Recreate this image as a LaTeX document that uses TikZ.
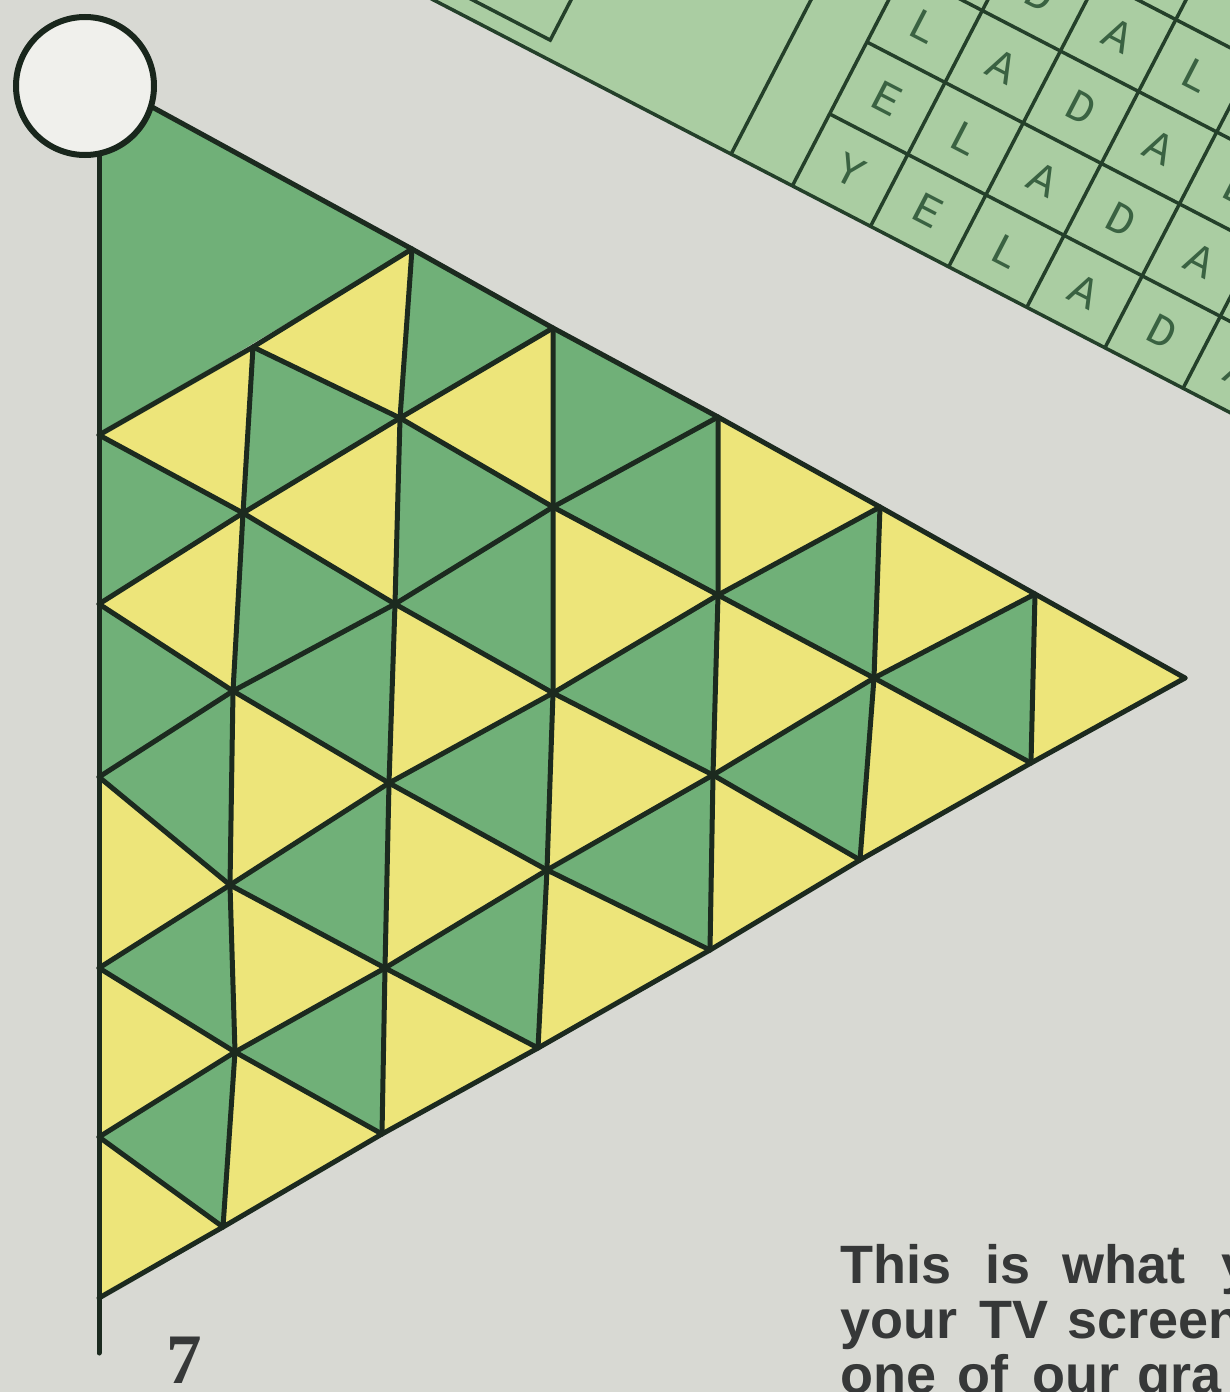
\documentclass[tikz,border=0pt]{standalone}
\usepackage{fontspec}
\newfontfamily\captionfont{Liberation Sans}
\newfontfamily\pagenumfont{Liberation Serif}
\newfontfamily\cardfont{Liberation Mono}
\definecolor{paper}{HTML}{D8D9D3}
\definecolor{tgreen}{HTML}{70B078}
\definecolor{tyellow}{HTML}{EDE57A}
\definecolor{inkline}{HTML}{1C2A1F}
\definecolor{cardgreen}{HTML}{AACDA2}
\definecolor{cardink}{HTML}{24402A}
\definecolor{letterink}{HTML}{3A6242}
\definecolor{textink}{HTML}{363838}
\definecolor{dotfill}{HTML}{F0F0EC}
\begin{document}
\begin{tikzpicture}[x=1pt,y=-1pt,
  grn/.style={fill=tgreen},
  yel/.style={fill=tyellow},
  gridline/.style={draw=inkline,line width=5pt,line join=round,line cap=round},
  cardline/.style={draw=cardink,line width=3.5pt},
  cardletter/.style={font=\cardfont\fontsize{45}{45}\selectfont,text=letterink,rotate=-27.4,inner sep=0pt},
  captionline/.style={font=\captionfont\bfseries\fontsize{54}{55}\selectfont,text=textink,anchor=base west,inner sep=0pt}]
\path[use as bounding box] (0,0) rectangle (1230,1392);
\clip (0,0) rectangle (1230,1392);
\fill[paper] (0,0) rectangle (1230,1392);

% ---------- card with letter grid (top right) ----------
\begin{scope}[shift={(700,138)}, x={(0.888pt,-0.46pt)}, y={(0.46pt,0.888pt)}]
  \fill[cardgreen] (-700,0) -- (900,0) -- (900,900) -- (-700,900) -- cycle;
  \draw[cardline] (-700,18) -- (-178,18) -- (-178,500);
  \draw[cardline] (35,0) -- (35,600);
  \foreach \k in {0,...,8} { \draw[cardline] ({104+88*\k},0) -- ({104+88*\k},700); }
  \foreach \m in {1,...,7} { \draw[cardline] (104,{81*\m}) -- (900,{81*\m}); }
  \draw[cardline] (-700,0) -- (900,0);
  \node[cardletter] (l00) at (148,40.5) {Y};
  \node[cardletter] (l10) at (236,40.5) {E};
  \node[cardletter] (l20) at (324,40.5) {L};
  \node[cardletter] (l30) at (412,40.5) {A};
  \node[cardletter] (l40) at (500,40.5) {D};
  \node[cardletter] (l50) at (588,40.5) {A};
  \node[cardletter] (l01) at (148,121.5) {E};
  \node[cardletter] (l11) at (236,121.5) {L};
  \node[cardletter] (l21) at (324,121.5) {A};
  \node[cardletter] (l31) at (412,121.5) {D};
  \node[cardletter] (l41) at (500,121.5) {A};
  \node[cardletter] (l02) at (148,202.5) {L};
  \node[cardletter] (l12) at (236,202.5) {A};
  \node[cardletter] (l22) at (324,202.5) {D};
  \node[cardletter] (l32) at (412,202.5) {A};
  \node[cardletter] (l42) at (500,202.5) {L};
  \node[cardletter] (l03) at (148,283.5) {A};
  \node[cardletter] (l13) at (236,283.5) {D};
  \node[cardletter] (l23) at (324,283.5) {A};
  \node[cardletter] (l33) at (412,283.5) {L};
\end{scope}

% ---------- lattice points of the triangle ----------
\coordinate (P00) at (99,78);
\coordinate (P02) at (99,435);
\coordinate (P03) at (99,604);
\coordinate (P04) at (99,777);
\coordinate (P05) at (99,968);
\coordinate (P06) at (99,1137);
\coordinate (P07) at (99,1298);
\coordinate (P11) at (253,347);
\coordinate (P12) at (243,513);
\coordinate (P13) at (233,691);
\coordinate (P14) at (230,885);
\coordinate (P15) at (235,1052);
\coordinate (P16) at (223,1227);
\coordinate (P20) at (412,249);
\coordinate (P21) at (400,418);
\coordinate (P22) at (395,604);
\coordinate (P23) at (389,783);
\coordinate (P24) at (385,968);
\coordinate (P25) at (382,1134);
\coordinate (P30) at (553,328);
\coordinate (P31) at (553,507);
\coordinate (P32) at (553,693);
\coordinate (P33) at (547,870);
\coordinate (P34) at (538,1048);
\coordinate (P40) at (718,417);
\coordinate (P41) at (718,595);
\coordinate (P42) at (713,775);
\coordinate (P43) at (710,950);
\coordinate (P50) at (880,507);
\coordinate (P51) at (874,678);
\coordinate (P52) at (860,860);
\coordinate (P60) at (1035,594);
\coordinate (P61) at (1031,763);
\coordinate (P70) at (1185,678);

% ---------- coloured triangles ----------
\fill[grn] (P00) -- (P20) -- (P02) -- cycle;
% column 0
\fill[yel] (P11) -- (P12) -- (P02) -- cycle;
\fill[grn] (P02) -- (P03) -- (P12) -- cycle;
\fill[yel] (P12) -- (P13) -- (P03) -- cycle;
\fill[grn] (P03) -- (P04) -- (P13) -- cycle;
\fill[grn] (P13) -- (P14) -- (P04) -- cycle;
\fill[yel] (P04) -- (P05) -- (P14) -- cycle;
\fill[grn] (P14) -- (P15) -- (P05) -- cycle;
\fill[yel] (P05) -- (P06) -- (P15) -- cycle;
\fill[grn] (P15) -- (P16) -- (P06) -- cycle;
\fill[yel] (P06) -- (P07) -- (P16) -- cycle;
% column 1
\fill[yel] (P20) -- (P21) -- (P11) -- cycle;
\fill[grn] (P11) -- (P12) -- (P21) -- cycle;
\fill[yel] (P21) -- (P22) -- (P12) -- cycle;
\fill[grn] (P12) -- (P13) -- (P22) -- cycle;
\fill[grn] (P22) -- (P23) -- (P13) -- cycle;
\fill[yel] (P13) -- (P14) -- (P23) -- cycle;
\fill[grn] (P23) -- (P24) -- (P14) -- cycle;
\fill[yel] (P14) -- (P15) -- (P24) -- cycle;
\fill[grn] (P24) -- (P25) -- (P15) -- cycle;
\fill[yel] (P15) -- (P16) -- (P25) -- cycle;
% column 2
\fill[grn] (P20) -- (P21) -- (P30) -- cycle;
\fill[yel] (P30) -- (P31) -- (P21) -- cycle;
\fill[grn] (P21) -- (P22) -- (P31) -- cycle;
\fill[grn] (P31) -- (P32) -- (P22) -- cycle;
\fill[yel] (P22) -- (P23) -- (P32) -- cycle;
\fill[grn] (P32) -- (P33) -- (P23) -- cycle;
\fill[yel] (P23) -- (P24) -- (P33) -- cycle;
\fill[grn] (P33) -- (P34) -- (P24) -- cycle;
\fill[yel] (P24) -- (P25) -- (P34) -- cycle;
% column 3
\fill[grn] (P30) -- (P31) -- (P40) -- cycle;
\fill[grn] (P40) -- (P41) -- (P31) -- cycle;
\fill[yel] (P31) -- (P32) -- (P41) -- cycle;
\fill[grn] (P41) -- (P42) -- (P32) -- cycle;
\fill[yel] (P32) -- (P33) -- (P42) -- cycle;
\fill[grn] (P42) -- (P43) -- (P33) -- cycle;
\fill[yel] (P33) -- (P34) -- (P43) -- cycle;
% column 4
\fill[yel] (P40) -- (P41) -- (P50) -- cycle;
\fill[grn] (P50) -- (P51) -- (P41) -- cycle;
\fill[yel] (P41) -- (P42) -- (P51) -- cycle;
\fill[grn] (P51) -- (P52) -- (P42) -- cycle;
\fill[yel] (P42) -- (P43) -- (P52) -- cycle;
% column 5
\fill[yel] (P50) -- (P51) -- (P60) -- cycle;
\fill[grn] (P60) -- (P61) -- (P51) -- cycle;
\fill[yel] (P51) -- (P52) -- (P61) -- cycle;
% column 6
\fill[yel] (P60) -- (P61) -- (P70) -- cycle;

% ---------- grid lines ----------
\coordinate (Ltop) at (99,150);
\coordinate (Lend) at (99,1353);
\draw[gridline] (Ltop) -- (Lend);
\draw[gridline] (P00) -- (P20) -- (P30) -- (P40) -- (P50) -- (P60) -- (P70);
\draw[gridline] (P07) -- (P16) -- (P25) -- (P34) -- (P43) -- (P52) -- (P61) -- (P70);
% vertical lines
\draw[gridline] (P11) -- (P12) -- (P13) -- (P14) -- (P15) -- (P16);
\draw[gridline] (P20) -- (P21) -- (P22) -- (P23) -- (P24) -- (P25);
\draw[gridline] (P30) -- (P31) -- (P32) -- (P33) -- (P34);
\draw[gridline] (P40) -- (P41) -- (P42) -- (P43);
\draw[gridline] (P50) -- (P51) -- (P52);
\draw[gridline] (P60) -- (P61);
% down-right lines
\draw[gridline] (P11) -- (P21) -- (P31) -- (P41) -- (P51) -- (P61);
\draw[gridline] (P02) -- (P12) -- (P22) -- (P32) -- (P42) -- (P52);
\draw[gridline] (P03) -- (P13) -- (P23) -- (P33) -- (P43);
\draw[gridline] (P04) -- (P14) -- (P24) -- (P34);
\draw[gridline] (P05) -- (P15) -- (P25);
\draw[gridline] (P06) -- (P16);
% up-right lines
\draw[gridline] (P02) -- (P11) -- (P20);
\draw[gridline] (P03) -- (P12) -- (P21) -- (P30);
\draw[gridline] (P04) -- (P13) -- (P22) -- (P31) -- (P40);
\draw[gridline] (P05) -- (P14) -- (P23) -- (P32) -- (P41) -- (P50);
\draw[gridline] (P06) -- (P15) -- (P24) -- (P33) -- (P42) -- (P51) -- (P60);

% ---------- white disc at the top corner ----------
\node[circle, draw=inkline!90!black, line width=6pt, fill=dotfill, minimum size=138pt, inner sep=0pt] (disc) at (85,86) {};

% ---------- page number and caption ----------
\node[font=\pagenumfont\bfseries\fontsize{71}{71}\selectfont, text=textink, anchor=base, inner sep=0pt] (pagenum) at (184,1383) {7};
\node[captionline] (cap1) at (840,1283) {This\hspace{34pt}is\hspace{32pt}what\hspace{36pt}y};
\node[captionline] (cap2) at (840,1338) {your\hspace{22pt}TV\hspace{19pt}screen};
\node[captionline] (cap3) at (840,1393) {one\hspace{21pt}of\hspace{24pt}our\hspace{18pt}gra};
\end{tikzpicture}
\end{document}
